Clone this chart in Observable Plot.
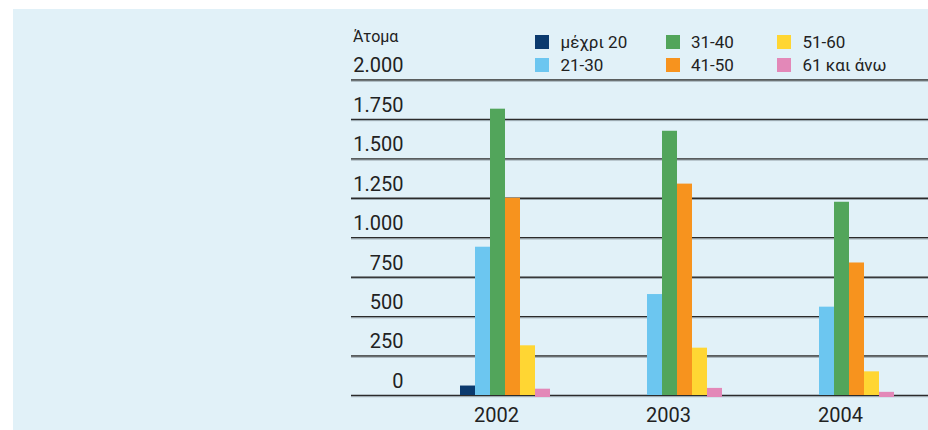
<!DOCTYPE html>
<html>
<head>
<meta charset="utf-8">
<script src="https://cdn.jsdelivr.net/npm/d3@7"></script>
<script src="https://cdn.jsdelivr.net/npm/@observablehq/plot@0.6"></script>
<style>
  body { margin: 0; background: #ffffff; font-family: Roboto, "Liberation Sans", sans-serif; }
  #wrap { position: relative; width: 928px; height: 430px; overflow: hidden; }
  #panel { position: absolute; left: 13px; top: 9px; right: 0; bottom: 0; background: #e1f1f8; }
  .layer { position: absolute; left: 0; top: 0; }
  #unit { position: absolute; left: 353px; top: 29px; font-size: 16px; line-height: 16px; color: #222; }
  .lg { position: absolute; font-size: 17px; line-height: 17px; color: #222; white-space: nowrap; }
  .sw { position: absolute; width: 14px; height: 14px; }
</style>
</head>
<body>
<div id="wrap">
  <div id="panel"></div>
  <div id="grid" class="layer"></div>
  <div id="bars" class="layer"></div>
  <div id="unit">Άτομα</div>
  <div id="legend"></div>
</div>
<script>
// ---- data ----
const years = ["2002", "2003", "2004"];
const ageGroups = ["μέχρι 20", "21-30", "31-40", "41-50", "51-60", "61 και άνω"];
const groupColors = ["#0b3a6e", "#6cc6f0", "#52a55b", "#f7931e", "#ffd633", "#e388b8"];
const upTo20   = [60, 0, 0];
const age21_30 = [940, 640, 560];
const age31_40 = [1815, 1675, 1225];
const age41_50 = [1250, 1340, 840];
const age51_60 = [315, 300, 150];
const age61up  = [40, 45, 20];
const yTicks = [0, 250, 500, 750, 1000, 1250, 1500, 1750, 2000];
const yTickLabels = ["0", "250", "500", "750", "1.000", "1.250", "1.500", "1.750", "2.000"];

const series = [upTo20, age21_30, age31_40, age41_50, age51_60, age61up];
const rows = [];
years.forEach((yr, i) => ageGroups.forEach((g, j) => rows.push({year: yr, group: g, value: series[j][i]})));
const lastGroup = ageGroups[ageGroups.length - 1];

const common = {
  width: 928,
  height: 430,
  marginLeft: 351,
  marginRight: 0,
  marginTop: 79.5,
  marginBottom: 35,
  style: { background: "transparent", fontFamily: "Roboto, 'Liberation Sans', sans-serif", color: "#222" },
  y: { domain: [0, 2000], axis: null }
};

// layer 1: gridlines and y tick labels (full width)
const grid = Plot.plot({
  ...common,
  marks: [
    Plot.ruleY(yTicks, { y: d => d, stroke: "#2b2b2b", strokeWidth: 1.5 }),
    Plot.ruleY(yTicks, { y: d => d, stroke: "#9aa7ae", strokeWidth: 1, dy: 1.2 }),
    Plot.text(yTicks, {
      y: d => d, text: (d, i) => yTickLabels[i], frameAnchor: "left",
      dx: 52, dy: -14, textAnchor: "end", fontSize: 20, fill: "#222"
    })
  ]
});
document.getElementById("grid").appendChild(grid);

// layer 2: grouped bars, faceted by year
const bars = Plot.plot({
  ...common,
  fx: { domain: years, range: [458, 896], paddingInner: 78 / 172, paddingOuter: 0, label: null },
  x: { domain: ageGroups, padding: 0, axis: null },
  color: { domain: ageGroups, range: groupColors },
  marks: [
    Plot.barY(rows.filter(d => d.group !== lastGroup), { fx: "year", x: "group", y: "value", fill: "group" }),
    Plot.barY(rows.filter(d => d.group === lastGroup), { fx: "year", x: "group", y: "value", fill: "group", insetBottom: -2 }),
    Plot.axisFx({ anchor: "bottom", tickSize: 0, tickPadding: 12, fontSize: 20, dx: -9, label: null, fill: "#222" })
  ]
});
document.getElementById("bars").appendChild(bars);

// ---- legend (column-major: 3 columns x 2 rows) ----
const legend = document.getElementById("legend");
const colX = [535, 665.5, 777];
const rowY = [35, 58];
ageGroups.forEach((g, k) => {
  const c = Math.floor(k / 2), r = k % 2;
  const sw = document.createElement("div");
  sw.className = "sw";
  sw.style.left = colX[c] + "px";
  sw.style.top = rowY[r] + "px";
  sw.style.background = groupColors[k];
  legend.appendChild(sw);
  const t = document.createElement("div");
  t.className = "lg";
  t.textContent = g;
  t.style.left = (colX[c] + 25.5) + "px";
  t.style.top = (rowY[r] - 1) + "px";
  legend.appendChild(t);
});
</script>
</body>
</html>
